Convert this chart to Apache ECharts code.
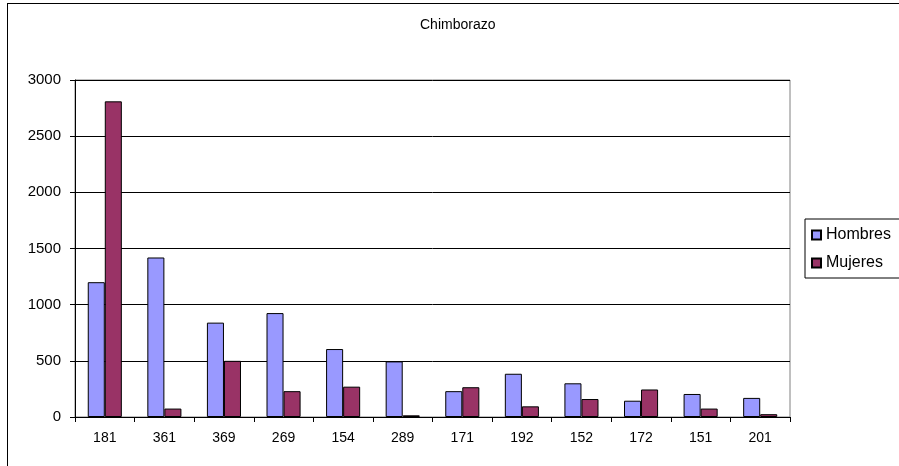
<!DOCTYPE html>
<html>
<head>
<meta charset="utf-8">
<script src="https://cdn.jsdelivr.net/npm/echarts@6/dist/echarts.min.js"></script>
<style>
html,body{margin:0;padding:0;background:#fff;overflow:hidden;}
#wrap{position:relative;width:899px;height:466px;overflow:hidden;}
#c{width:899px;height:466px;}
#frame{position:absolute;left:7px;top:3px;width:1000px;height:1000px;border:1px solid #000;pointer-events:none;box-sizing:border-box;}
</style>
</head>
<body>
<div id="wrap"><div id="c"></div><div id="frame"></div></div>
<script>
var categories = ['181','361','369','269','154','289','171','192','152','172','151','201'];
var hombres = [1200,1420,840,925,605,495,230,385,300,145,205,170];
var mujeres = [2810,75,500,230,270,15,265,95,160,245,75,25];
var yTicks = [0,500,1000,1500,2000,2500,3000];

var FONT = 'Liberation Sans, Arial, sans-serif';
var chart = echarts.init(document.getElementById('c'), null, {renderer:'canvas'});
chart.setOption({
  animation:false,
  backgroundColor:'#fff',
  title:{text:'Chimborazo',left:420,top:18,padding:0,textStyle:{fontFamily:FONT,fontSize:14,fontWeight:'normal',color:'#000'}},
  legend:{
    orient:'vertical',left:805,top:219,
    data:['Hombres','Mujeres'],
    icon:'rect',itemWidth:9,itemHeight:9,itemGap:12,
    padding:[8,10,7,6],
    borderColor:'#000',borderWidth:1,
    textStyle:{fontFamily:FONT,fontSize:16,color:'#000',padding:[0,0,0,0]}
  },
  grid:{left:75,right:109,top:80,bottom:49,show:true,borderColor:'#808080',borderWidth:1,backgroundColor:'transparent'},
  xAxis:{
    type:'category',data:categories,
    axisLine:{lineStyle:{color:'#000',width:1}},
    axisTick:{show:true,interval:0,length:5,lineStyle:{color:'#000'}},
    axisLabel:{interval:0,fontFamily:FONT,fontSize:14,color:'#000',margin:14}
  },
  yAxis:{
    type:'value',min:yTicks[0],max:yTicks[yTicks.length-1],interval:500,
    axisLine:{show:true,lineStyle:{color:'#000',width:1}},
    axisTick:{show:true,length:5,lineStyle:{color:'#000'}},
    axisLabel:{fontFamily:FONT,fontSize:15,color:'#000',margin:14,formatter:function(v){return String(v);}},
    splitLine:{lineStyle:{color:'#000',width:1}}
  },
  series:[
    {name:'Hombres',type:'bar',data:hombres,barGap:'0%',barCategoryGap:'42.8%',
     itemStyle:{color:'#9999FF',borderColor:'#000',borderWidth:1}},
    {name:'Mujeres',type:'bar',data:mujeres,barGap:'0%',barCategoryGap:'42.8%',
     itemStyle:{color:'#993366',borderColor:'#000',borderWidth:1}}
  ]
});
</script>
</body>
</html>
